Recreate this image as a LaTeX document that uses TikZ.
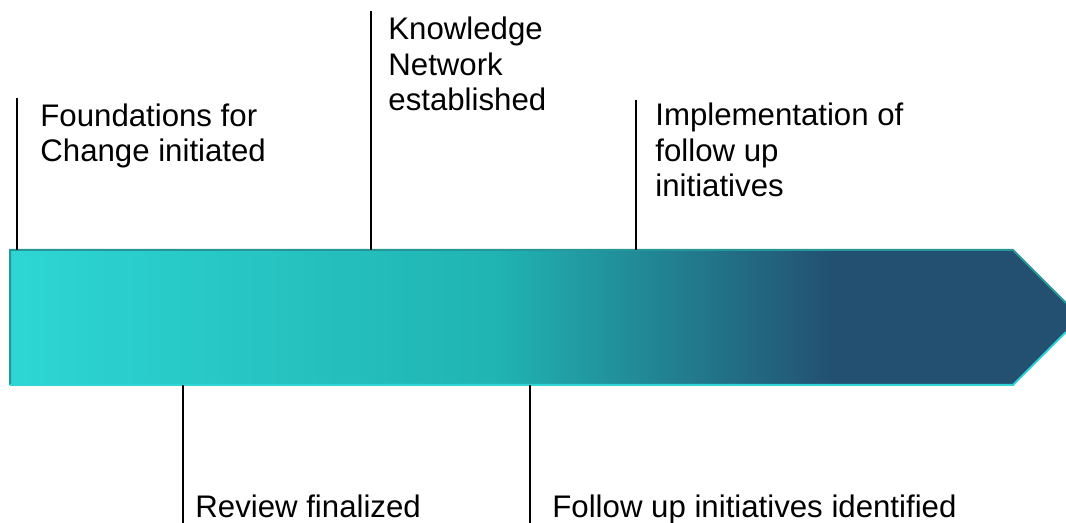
\documentclass[tikz,border=0pt]{standalone}
\usepackage{fontspec}
\setmainfont{Liberation Sans}
\definecolor{bandcyan}{RGB}{45,214,212}
\definecolor{bandteal}{RGB}{32,180,178}
\definecolor{banddark}{RGB}{35,80,112}
\definecolor{bandedge}{RGB}{38,150,150}
\pgfdeclarehorizontalshading{bandshade}{100bp}{color(0bp)=(bandcyan); color(25bp)=(bandcyan); color(48bp)=(bandteal); color(64bp)=(banddark); color(100bp)=(banddark)}
\tikzset{
  milestone/.style={anchor=base west, inner sep=0pt, align=left, font=\fontsize{15.6}{17.75}\selectfont},
  tick/.style={line width=1pt}
}
\begin{document}
\begin{tikzpicture}[x=0.5pt,y=-0.5pt]
\useasboundingbox (0,0) rectangle (1066,523);
% timeline band
\shade[shading=bandshade] (10,250) -- (1013,250) -- (1066,303) -- (1066,332) -- (1013,385) -- (10,385) -- cycle;
\draw[bandedge, line width=1pt] (10,385) -- (10,250) -- (1013,250) -- (1066,303);
\draw[bandcyan, line width=1pt] (10,385) -- (1013,385) -- (1066,332);
% milestones above (base = last line)
\coordinate (up1) at (17,98);
\coordinate (on1) at (17,250);
\node[milestone] (found) at (40,162) {Foundations for\\Change initiated};
\draw[tick](up1) -- (on1);
\coordinate (up2) at (371,11);
\coordinate (on2) at (371,250);
\node[milestone] (know) at (388,111) {Knowledge\\Network\\established};
\draw[tick](up2) -- (on2);
\coordinate (up3) at (636,100);
\coordinate (on3) at (636,250);
\node[milestone] (impl) at (655,197) {Implementation of\\follow up\\initiatives};
\draw[tick](up3) -- (on3);
% milestones below
\coordinate (on4) at (183,385);
\coordinate (dn4) at (183,523);
\node[milestone] (review) at (195,517) {Review finalized};
\draw[tick](on4) -- (dn4);
\coordinate (on5) at (530,385);
\coordinate (dn5) at (530,523);
\node[milestone] (follow) at (552,517) {Follow up initiatives identified};
\draw[tick](on5) -- (dn5);
\end{tikzpicture}
\end{document}
